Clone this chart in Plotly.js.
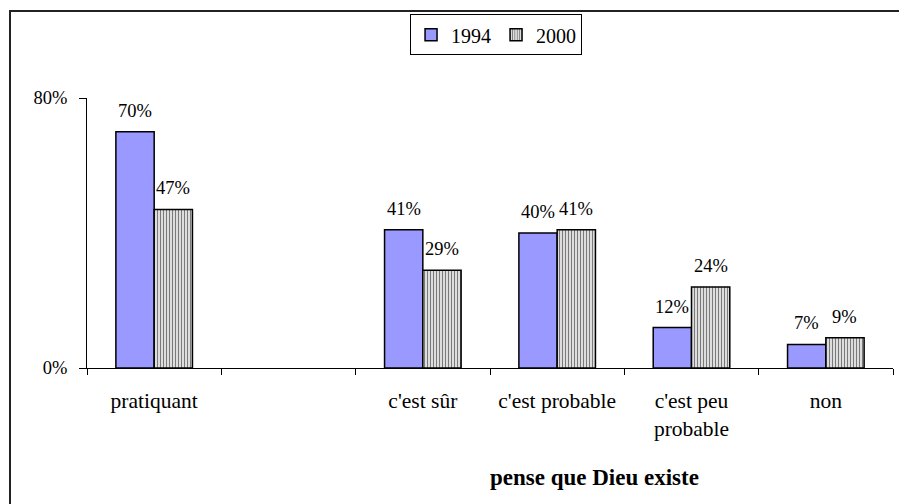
<!DOCTYPE html>
<html>
<head>
<meta charset="utf-8">
<script src="https://cdn.plot.ly/plotly-3.0.1.min.js"></script>
<style>
  html, body { margin: 0; padding: 0; background: #fff; }
  #wrap { position: relative; width: 899px; height: 504px; overflow: hidden; }
  #chart { position: absolute; left: 0; top: 0; width: 899px; height: 504px; }
  #frame { position: absolute; left: 9px; top: 10px; width: 950px; height: 560px;
           border-left: 2px solid #222; border-top: 2px solid #222; pointer-events: none; }
</style>
</head>
<body>
<div id="wrap">
  <div id="chart"></div>
  <div id="frame"></div>
</div>
<script>
// ---- data ----
const categories = ['pratiquant', '\u00a0', "c'est sûr", "c'est probable", "c'est peu<br>probable", 'non'];
const seriesNames = ['1994', '2000'];
const values1994 = [70, null, 41, 40, 12, 7];
const values2000 = [47, null, 29, 41, 24, 9];
const yTickVals = [0, 80];
const yTickText = ['0%', '80%'];
const xTitle = 'pense que Dieu existe';

// ---- styling ----
const FONT = 'Liberation Serif, Times New Roman, serif';
const bargap = 0.43;
const half = (1 - bargap) / 4; // offset of each bar centre from the category centre

const traces = [
  {
    type: 'bar', name: seriesNames[0], x: categories, y: values1994,
    marker: { color: '#9999FF', line: { color: '#000', width: 1.5 } },
    hoverinfo: 'skip'
  },
  {
    type: 'bar', name: seriesNames[1], x: categories, y: values2000,
    marker: { color: '#D4D4D4', line: { color: '#000', width: 1.5 },
              pattern: { shape: '|', size: 3, solidity: 0.35, fgcolor: '#7a7a7a', bgcolor: '#DDDDDD' } },
    hoverinfo: 'skip'
  }
];

const annotations = [];
[values1994, values2000].forEach((vals, s) => {
  vals.forEach((v, i) => {
    if (v === null) return;
    annotations.push({
      x: i + (s === 0 ? -half : half), y: v, xref: 'x', yref: 'y',
      text: v + '%', showarrow: false, yanchor: 'bottom', yshift: 9,
      font: { family: FONT, size: 18.5, color: '#000' }
    });
  });
});
annotations.push({
  text: '<b>' + xTitle + '</b>', xref: 'paper', yref: 'paper', x: 0.63, y: -0.405,
  xanchor: 'center', yanchor: 'middle', showarrow: false,
  font: { family: FONT, size: 23, color: '#000' }
});

const layout = {
  width: 899, height: 504,
  margin: { l: 87, r: 6, t: 98, b: 136, pad: 0 },
  paper_bgcolor: '#fff', plot_bgcolor: '#fff',
  font: { family: FONT, size: 19, color: '#000' },
  barmode: 'group', bargap: bargap, bargroupgap: 0,
  showlegend: true,
  legend: {
    orientation: 'h', x: 0.4008, y: 1.31, xanchor: 'left', yanchor: 'top',
    bordercolor: '#000', borderwidth: 1, bgcolor: '#fff',
    font: { family: FONT, size: 20, color: '#000' }, itemwidth: 30,
    tracegroupgap: 0
  },
  xaxis: {
    type: 'category', categoryorder: 'array', categoryarray: categories,
    range: [-0.5, categories.length - 0.5],
    tickson: 'boundaries', ticks: 'outside', ticklen: 6, tickcolor: '#000',
    showline: true, linecolor: '#000', linewidth: 1, showgrid: false, zeroline: false,
    ticklabelstandoff: 13, fixedrange: true,
    tickfont: { family: FONT, size: 21.5, color: '#000' }
  },
  yaxis: {
    range: [0, 80], tickvals: yTickVals, ticktext: yTickText,
    ticks: 'outside', ticklen: 7, tickcolor: '#000',
    showline: true, linecolor: '#000', linewidth: 1, showgrid: false, zeroline: false,
    ticklabelstandoff: 8, fixedrange: true,
    tickfont: { family: FONT, size: 18.5, color: '#000' }
  },
  annotations: annotations
};

Plotly.newPlot('chart', traces, layout, { displayModeBar: false, staticPlot: true });
</script>
</body>
</html>
